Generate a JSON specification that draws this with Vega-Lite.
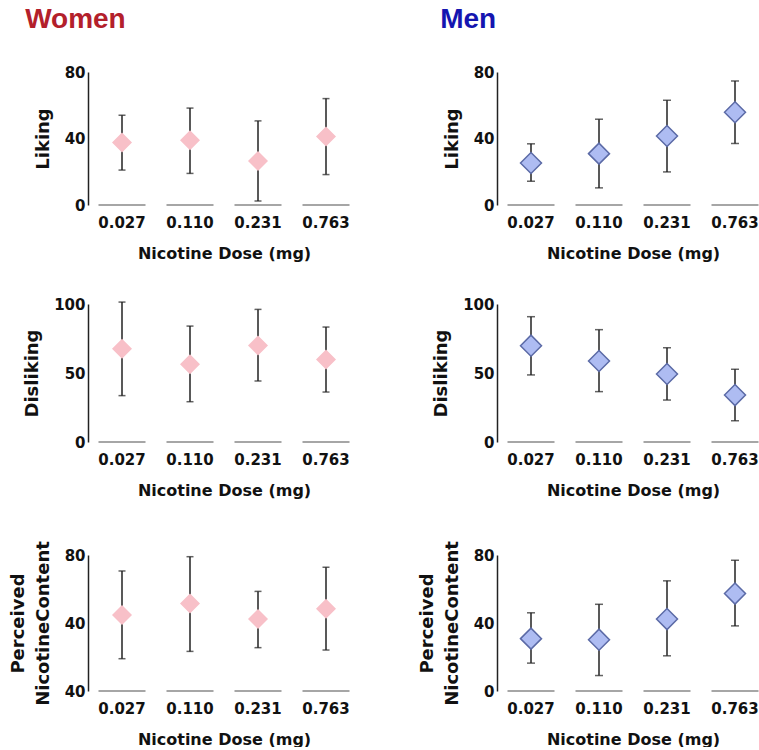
{
  "$schema": "https://vega.github.io/schema/vega-lite/v6.json",
  "padding": {"left": 9, "top": 6, "right": 0, "bottom": 0},
  "background": "white",
  "datasets": {
    "d": [
      {"sex": "Women", "measure": "Liking", "dose": "0.027", "mean": 37.6, "low": 21, "high": 54},
      {"sex": "Women", "measure": "Liking", "dose": "0.110", "mean": 39, "low": 19, "high": 58.3},
      {"sex": "Women", "measure": "Liking", "dose": "0.231", "mean": 26.5, "low": 2.4, "high": 50.6},
      {"sex": "Women", "measure": "Liking", "dose": "0.763", "mean": 41.2, "low": 18.3, "high": 64},
      {"sex": "Men", "measure": "Liking", "dose": "0.027", "mean": 25.3, "low": 14.3, "high": 36.8},
      {"sex": "Men", "measure": "Liking", "dose": "0.110", "mean": 30.9, "low": 10.3, "high": 51.6},
      {"sex": "Men", "measure": "Liking", "dose": "0.231", "mean": 41.5, "low": 19.9, "high": 63},
      {"sex": "Men", "measure": "Liking", "dose": "0.763", "mean": 55.8, "low": 37, "high": 74.6},
      {"sex": "Women", "measure": "Disliking", "dose": "0.027", "mean": 67.6, "low": 33.6, "high": 101.4},
      {"sex": "Women", "measure": "Disliking", "dose": "0.110", "mean": 56.3, "low": 29.2, "high": 84},
      {"sex": "Women", "measure": "Disliking", "dose": "0.231", "mean": 70, "low": 44.2, "high": 96.1},
      {"sex": "Women", "measure": "Disliking", "dose": "0.763", "mean": 59.7, "low": 36.2, "high": 83.3},
      {"sex": "Men", "measure": "Disliking", "dose": "0.027", "mean": 69.8, "low": 48.6, "high": 90.8},
      {"sex": "Men", "measure": "Disliking", "dose": "0.110", "mean": 58.7, "low": 36.5, "high": 81.4},
      {"sex": "Men", "measure": "Disliking", "dose": "0.231", "mean": 49.3, "low": 30.4, "high": 68.3},
      {"sex": "Men", "measure": "Disliking", "dose": "0.763", "mean": 34, "low": 15.4, "high": 52.7},
      {"sex": "Women", "measure": "Perceived", "dose": "0.027", "mean": 44.7, "low": 19, "high": 70.6},
      {"sex": "Women", "measure": "Perceived", "dose": "0.110", "mean": 51.4, "low": 23.3, "high": 79},
      {"sex": "Women", "measure": "Perceived", "dose": "0.231", "mean": 42.4, "low": 25.5, "high": 58.6},
      {"sex": "Women", "measure": "Perceived", "dose": "0.763", "mean": 48.4, "low": 24.1, "high": 72.8},
      {"sex": "Men", "measure": "Perceived", "dose": "0.027", "mean": 30.8, "low": 16.4, "high": 46},
      {"sex": "Men", "measure": "Perceived", "dose": "0.110", "mean": 30.2, "low": 9.1, "high": 51},
      {"sex": "Men", "measure": "Perceived", "dose": "0.231", "mean": 42.3, "low": 20.7, "high": 64.8},
      {"sex": "Men", "measure": "Perceived", "dose": "0.763", "mean": 57.3, "low": 38.3, "high": 76.9}
    ]
  },
  "data": {"name": "d"},
  "spacing": 58,
  "hconcat": [
    {
      "title": {"text": "Women", "color": "#b3202b", "fontSize": 28, "font": "Liberation Sans", "fontWeight": "bold", "anchor": "start", "offset": 31, "dx": 16},
      "spacing": 42,
      "vconcat": [
        {
          "spacing": 36,
          "vconcat": [
            {
              "width": 272, "height": 133,
              "transform": [{"filter": "datum.sex == 'Women' && datum.measure == 'Liking'"}],
              "encoding": {"x": {"field": "dose", "type": "ordinal", "sort": null, "scale": {"paddingInner": 0, "paddingOuter": 0}, "axis": {"title": "Nicotine Dose (mg)"}}},
              "layer": [
                {"mark": {"type": "tick", "orient": "horizontal", "size": 47, "thickness": 1.5, "color": "#555"},
                 "encoding": {"y": {"datum": 0, "type": "quantitative", "scale": {"domain": [0, 80], "nice": false}, "axis": {"title": "Liking", "values": [0, 40, 80]}}}},
                {"mark": {"type": "rule", "color": "#222", "strokeWidth": 1.5}, "encoding": {"y": {"field": "low", "type": "quantitative"}, "y2": {"field": "high"}}},
                {"mark": {"type": "tick", "orient": "horizontal", "size": 7, "thickness": 1.5, "color": "#222"}, "encoding": {"y": {"field": "low", "type": "quantitative"}}},
                {"mark": {"type": "tick", "orient": "horizontal", "size": 7, "thickness": 1.5, "color": "#222"}, "encoding": {"y": {"field": "high", "type": "quantitative"}}},
                {"mark": {"type": "point", "shape": "diamond", "filled": true, "size": 400, "fill": "#f8c0c8", "opacity": 1, "strokeWidth": 0}, "encoding": {"y": {"field": "mean", "type": "quantitative"}}}
              ]
            },
            {
              "width": 272, "height": 138,
              "transform": [{"filter": "datum.sex == 'Women' && datum.measure == 'Disliking'"}],
              "encoding": {"x": {"field": "dose", "type": "ordinal", "sort": null, "scale": {"paddingInner": 0, "paddingOuter": 0}, "axis": {"title": "Nicotine Dose (mg)"}}},
              "layer": [
                {"mark": {"type": "tick", "orient": "horizontal", "size": 47, "thickness": 1.5, "color": "#555"},
                 "encoding": {"y": {"datum": 0, "type": "quantitative", "scale": {"domain": [0, 100], "nice": false}, "axis": {"title": "Disliking", "values": [0, 50, 100]}}}},
                {"mark": {"type": "rule", "color": "#222", "strokeWidth": 1.5}, "encoding": {"y": {"field": "low", "type": "quantitative"}, "y2": {"field": "high"}}},
                {"mark": {"type": "tick", "orient": "horizontal", "size": 7, "thickness": 1.5, "color": "#222"}, "encoding": {"y": {"field": "low", "type": "quantitative"}}},
                {"mark": {"type": "tick", "orient": "horizontal", "size": 7, "thickness": 1.5, "color": "#222"}, "encoding": {"y": {"field": "high", "type": "quantitative"}}},
                {"mark": {"type": "point", "shape": "diamond", "filled": true, "size": 400, "fill": "#f8c0c8", "opacity": 1, "strokeWidth": 0}, "encoding": {"y": {"field": "mean", "type": "quantitative"}}}
              ]
            }
          ]
        },
        {
          "width": 272, "height": 136,
          "transform": [{"filter": "datum.sex == 'Women' && datum.measure == 'Perceived'"}],
          "encoding": {"x": {"field": "dose", "type": "ordinal", "sort": null, "scale": {"paddingInner": 0, "paddingOuter": 0}, "axis": {"title": "Nicotine Dose (mg)"}}},
          "layer": [
            {"mark": {"type": "tick", "orient": "horizontal", "size": 47, "thickness": 1.5, "color": "#555"},
             "encoding": {"y": {"datum": 0, "type": "quantitative", "scale": {"domain": [0, 80], "nice": false}, "axis": {"title": ["Perceived", "NicotineContent"], "values": [0, 40, 80], "labelExpr": "datum.value === 0 ? '40' : datum.label"}}}},
            {"mark": {"type": "rule", "color": "#222", "strokeWidth": 1.5}, "encoding": {"y": {"field": "low", "type": "quantitative"}, "y2": {"field": "high"}}},
            {"mark": {"type": "tick", "orient": "horizontal", "size": 7, "thickness": 1.5, "color": "#222"}, "encoding": {"y": {"field": "low", "type": "quantitative"}}},
            {"mark": {"type": "tick", "orient": "horizontal", "size": 7, "thickness": 1.5, "color": "#222"}, "encoding": {"y": {"field": "high", "type": "quantitative"}}},
            {"mark": {"type": "point", "shape": "diamond", "filled": true, "size": 400, "fill": "#f8c0c8", "opacity": 1, "strokeWidth": 0}, "encoding": {"y": {"field": "mean", "type": "quantitative"}}}
          ]
        }
      ]
    },
    {
      "title": {"text": "Men", "color": "#1515b0", "fontSize": 28, "font": "Liberation Sans", "fontWeight": "bold", "anchor": "start", "offset": 31, "dx": 22},
      "spacing": 42,
      "vconcat": [
        {
          "spacing": 36,
          "vconcat": [
            {
              "width": 272, "height": 133,
              "transform": [{"filter": "datum.sex == 'Men' && datum.measure == 'Liking'"}],
              "encoding": {"x": {"field": "dose", "type": "ordinal", "sort": null, "scale": {"paddingInner": 0, "paddingOuter": 0}, "axis": {"title": "Nicotine Dose (mg)"}}},
              "layer": [
                {"mark": {"type": "tick", "orient": "horizontal", "size": 47, "thickness": 1.5, "color": "#555"},
                 "encoding": {"y": {"datum": 0, "type": "quantitative", "scale": {"domain": [0, 80], "nice": false}, "axis": {"title": "Liking", "values": [0, 40, 80]}}}},
                {"mark": {"type": "rule", "color": "#222", "strokeWidth": 1.5}, "encoding": {"y": {"field": "low", "type": "quantitative"}, "y2": {"field": "high"}}},
                {"mark": {"type": "tick", "orient": "horizontal", "size": 8, "thickness": 1.5, "color": "#222"}, "encoding": {"y": {"field": "low", "type": "quantitative"}}},
                {"mark": {"type": "tick", "orient": "horizontal", "size": 8, "thickness": 1.5, "color": "#222"}, "encoding": {"y": {"field": "high", "type": "quantitative"}}},
                {"mark": {"type": "point", "shape": "diamond", "filled": true, "size": 441, "fill": "#aebcf2", "stroke": "#5b6aa6", "strokeWidth": 1.5, "opacity": 1}, "encoding": {"y": {"field": "mean", "type": "quantitative"}}}
              ]
            },
            {
              "width": 272, "height": 138,
              "transform": [{"filter": "datum.sex == 'Men' && datum.measure == 'Disliking'"}],
              "encoding": {"x": {"field": "dose", "type": "ordinal", "sort": null, "scale": {"paddingInner": 0, "paddingOuter": 0}, "axis": {"title": "Nicotine Dose (mg)"}}},
              "layer": [
                {"mark": {"type": "tick", "orient": "horizontal", "size": 47, "thickness": 1.5, "color": "#555"},
                 "encoding": {"y": {"datum": 0, "type": "quantitative", "scale": {"domain": [0, 100], "nice": false}, "axis": {"title": "Disliking", "values": [0, 50, 100]}}}},
                {"mark": {"type": "rule", "color": "#222", "strokeWidth": 1.5}, "encoding": {"y": {"field": "low", "type": "quantitative"}, "y2": {"field": "high"}}},
                {"mark": {"type": "tick", "orient": "horizontal", "size": 8, "thickness": 1.5, "color": "#222"}, "encoding": {"y": {"field": "low", "type": "quantitative"}}},
                {"mark": {"type": "tick", "orient": "horizontal", "size": 8, "thickness": 1.5, "color": "#222"}, "encoding": {"y": {"field": "high", "type": "quantitative"}}},
                {"mark": {"type": "point", "shape": "diamond", "filled": true, "size": 441, "fill": "#aebcf2", "stroke": "#5b6aa6", "strokeWidth": 1.5, "opacity": 1}, "encoding": {"y": {"field": "mean", "type": "quantitative"}}}
              ]
            }
          ]
        },
        {
          "width": 272, "height": 136,
          "transform": [{"filter": "datum.sex == 'Men' && datum.measure == 'Perceived'"}],
          "encoding": {"x": {"field": "dose", "type": "ordinal", "sort": null, "scale": {"paddingInner": 0, "paddingOuter": 0}, "axis": {"title": "Nicotine Dose (mg)"}}},
          "layer": [
            {"mark": {"type": "tick", "orient": "horizontal", "size": 47, "thickness": 1.5, "color": "#555"},
             "encoding": {"y": {"datum": 0, "type": "quantitative", "scale": {"domain": [0, 80], "nice": false}, "axis": {"title": ["Perceived", "NicotineContent"], "values": [0, 40, 80]}}}},
            {"mark": {"type": "rule", "color": "#222", "strokeWidth": 1.5}, "encoding": {"y": {"field": "low", "type": "quantitative"}, "y2": {"field": "high"}}},
            {"mark": {"type": "tick", "orient": "horizontal", "size": 8, "thickness": 1.5, "color": "#222"}, "encoding": {"y": {"field": "low", "type": "quantitative"}}},
            {"mark": {"type": "tick", "orient": "horizontal", "size": 8, "thickness": 1.5, "color": "#222"}, "encoding": {"y": {"field": "high", "type": "quantitative"}}},
            {"mark": {"type": "point", "shape": "diamond", "filled": true, "size": 441, "fill": "#aebcf2", "stroke": "#5b6aa6", "strokeWidth": 1.5, "opacity": 1}, "encoding": {"y": {"field": "mean", "type": "quantitative"}}}
          ]
        }
      ]
    }
  ],
  "config": {
    "font": "DejaVu Sans",
    "view": {"stroke": null},
    "axis": {"labelFont": "DejaVu Sans", "labelFontWeight": "bold", "labelFontSize": 15, "labelColor": "#111", "titleFont": "DejaVu Sans", "titleFontWeight": "bold", "titleColor": "#111", "grid": false, "ticks": false},
    "axisX": {"domain": false, "labelAngle": 0, "labelPadding": 10, "titleFontSize": 16, "titlePadding": 15},
    "axisY": {"domain": true, "domainColor": "#222", "domainWidth": 1.5, "labelPadding": 3, "titleFontSize": 18, "titlePadding": 12, "titleLineHeight": 25}
  }
}
